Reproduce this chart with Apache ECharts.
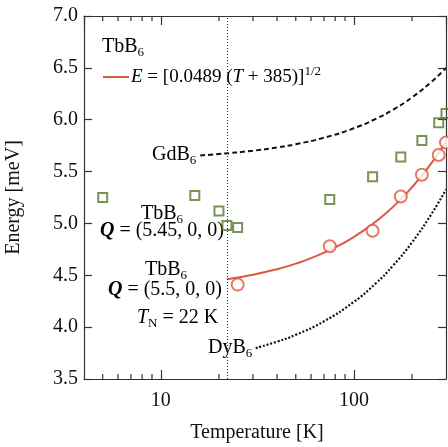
<!DOCTYPE html>
<html>
<head>
<meta charset="utf-8">
<script src="https://cdn.jsdelivr.net/npm/echarts@6/dist/echarts.min.js"></script>
<style>
html,body{margin:0;padding:0;background:#fff;}
#chart{width:448px;height:447px;}
</style>
</head>
<body>
<div id="chart"></div>
<script>
// ---- data ----
const xTickValues = [10, 100];
const xTickLabels = ['10', '100'];
const xMinorTicks = [5, 6, 7, 8, 9, 20, 30, 40, 50, 60, 70, 80, 90, 200];
const yTickLabels = ['3.5', '4.0', '4.5', '5.0', '5.5', '6.0', '6.5', '7.0'];

const redTemps = [25, 75, 125, 175, 225, 275, 300];
const redEnergy = [4.41, 4.78, 4.93, 5.26, 5.47, 5.66, 5.78];

const greenTemps = [5, 15, 20, 22, 25, 75, 125, 175, 225, 275, 300];
const greenEnergy = [5.25, 5.27, 5.12, 4.98, 4.96, 5.23, 5.45, 5.64, 5.80, 5.97, 6.06];

const fitTemps = [22, 30, 40, 50, 60, 80, 100, 125, 150, 175, 200, 225, 250, 275, 300];
const fitEnergy = [4.461, 4.505, 4.559, 4.612, 4.665, 4.769, 4.870, 4.994, 5.115, 5.233, 5.349, 5.462, 5.572, 5.681, 5.788];

const gdTemps = [16, 20, 30, 40, 50, 70, 100, 130, 160, 200, 250, 300];
const gdEnergy = [5.656, 5.669, 5.701, 5.732, 5.764, 5.826, 5.918, 6.009, 6.098, 6.215, 6.359, 6.499];

const dyTemps = [31, 40, 50, 70, 100, 130, 160, 200, 250, 300];
const dyEnergy = [3.798, 3.860, 3.926, 4.056, 4.244, 4.423, 4.596, 4.817, 5.079, 5.328];

const TN = 22;

// ---- styling ----
const RED = '#dd5840';
const GREEN = '#56782a';
const FONT = '"Liberation Serif", "DejaVu Serif", serif';
const zip = (a, b) => a.map((v, i) => [v, b[i]]);

const chart = echarts.init(document.getElementById('chart'), null, {renderer: 'canvas'});

const axisLine = {show: true, lineStyle: {color: '#333', width: 1.2}};

const option = {
  animation: false,
  grid: {left: 84, right: 2, top: 16, bottom: 68, containLabel: false, outerBoundsMode: 'none'},
  xAxis: [{
    type: 'log', logBase: 10, min: 4, max: 300, position: 'bottom',
    axisLine: axisLine,
    axisTick: {show: true, inside: true, length: 9, lineStyle: {color: '#333', width: 1.2}},
    splitLine: {show: false},
    minorTick: {show: false},
    axisLabel: {
      show: true, margin: 12, color: '#111', fontFamily: FONT, fontSize: 20,
      showMinLabel: false, showMaxLabel: false,
      formatter: function (v) {
        for (let i = 0; i < xTickValues.length; i++) {
          if (Math.abs(v - xTickValues[i]) < 1e-6 * xTickValues[i]) return xTickLabels[i];
        }
        return '';
      }
    },
    name: 'Temperature [K]', nameLocation: 'middle', nameGap: 44,
    nameTextStyle: {color: '#111', fontFamily: FONT, fontSize: 20, padding: [0, 16, 0, 0]}
  }, {
    type: 'log', logBase: 10, min: 4, max: 300, position: 'top',
    axisLine: axisLine,
    axisTick: {show: true, inside: true, length: 9, lineStyle: {color: '#333', width: 1.2}},
    splitLine: {show: false},
    axisLabel: {show: false}
  }],
  yAxis: [{
    type: 'value', min: 3.5, max: 7.0, interval: 0.5, position: 'left',
    axisLine: axisLine,
    axisTick: {show: true, inside: true, length: 8, lineStyle: {color: '#333', width: 1.2}},
    splitLine: {show: false},
    axisLabel: {
      margin: 6, color: '#111', fontFamily: FONT, fontSize: 20,
      formatter: function (v) {
        const idx = Math.round((v - 3.5) / 0.5);
        return yTickLabels[idx] !== undefined ? yTickLabels[idx] : '';
      }
    },
    name: 'Energy [meV]', nameLocation: 'middle', nameGap: 60, nameRotate: 90,
    nameTextStyle: {color: '#111', fontFamily: FONT, fontSize: 20, padding: [0, 0, 0, 0]}
  }, {
    type: 'value', min: 3.5, max: 7.0, interval: 0.5, position: 'right',
    axisLine: axisLine,
    axisTick: {show: true, inside: true, length: 8, lineStyle: {color: '#333', width: 1.2}},
    splitLine: {show: false},
    axisLabel: {show: false}
  }],
  series: [
    {
      // minor ticks on log axes (bottom and top)
      type: 'custom', xAxisIndex: 0, yAxisIndex: 0, clip: false, silent: true,
      data: xMinorTicks.map(t => [t, 3.5]),
      encode: {x: 0, y: 1},
      renderItem: function (params, api) {
        const T = api.value(0);
        const b = api.coord([T, 3.5]);
        const t = api.coord([T, 7.0]);
        const st = {stroke: '#333', lineWidth: 1.2};
        return {type: 'group', children: [
          {type: 'line', shape: {x1: b[0], y1: b[1], x2: b[0], y2: b[1] - 5}, style: st},
          {type: 'line', shape: {x1: t[0], y1: t[1], x2: t[0], y2: t[1] + 5}, style: st}
        ]};
      }
    },
    {
      name: 'TN', type: 'line', data: [], silent: true,
      markLine: {
        silent: true, symbol: ['none', 'none'], label: {show: false},
        lineStyle: {color: '#333', width: 1.1, type: [1, 2]},
        data: [{xAxis: TN}]
      }
    },
    {
      name: 'GdB6', type: 'line', data: zip(gdTemps, gdEnergy), smooth: true,
      symbol: 'none', lineStyle: {color: '#111', width: 2, type: [5, 3]}
    },
    {
      name: 'DyB6', type: 'line', data: zip(dyTemps, dyEnergy), smooth: true,
      symbol: 'none', lineStyle: {color: '#111', width: 2.2, type: [2, 1.8]}
    },
    {
      name: 'fit', type: 'line', data: zip(fitTemps, fitEnergy), smooth: true,
      symbol: 'none', lineStyle: {color: RED, width: 2}
    },
    {
      name: 'TbB6 Q=(5.45,0,0)', type: 'scatter', data: zip(greenTemps, greenEnergy),
      symbol: 'rect', symbolSize: 9,
      itemStyle: {color: 'rgba(255,255,255,0)', borderColor: GREEN, borderWidth: 2}
    },
    {
      name: 'TbB6 Q=(5.5,0,0)', type: 'scatter', data: zip(redTemps, redEnergy),
      symbol: 'circle', symbolSize: 12, z: 5,
      itemStyle: {color: '#fff', borderColor: RED, borderWidth: 2}
    }
  ],
  graphic: [
    {type: 'text', x: 102, y: 47, style: {
      text: '{a|TbB}{s|6}', verticalAlign: 'middle', align: 'left',
      rich: {a: {fontFamily: FONT, fontSize: 20, color: '#111', lineHeight: 24},
             s: {fontFamily: FONT, fontSize: 13, color: '#111', lineHeight: 13, verticalAlign: 'bottom'}}
    }},
    {type: 'line', shape: {x1: 103, y1: 77, x2: 129, y2: 77}, style: {stroke: RED, lineWidth: 2}},
    {type: 'text', x: 131, y: 77, style: {
      text: '{i|E}{n| = [0.0489 (}{i|T}{n| + 385)]}{p|1/2}', verticalAlign: 'middle', align: 'left',
      rich: {i: {fontFamily: FONT, fontSize: 19, fontStyle: 'italic', color: '#111', lineHeight: 24},
             n: {fontFamily: FONT, fontSize: 19, color: '#111', lineHeight: 24},
             p: {fontFamily: FONT, fontSize: 13, color: '#111', lineHeight: 13, verticalAlign: 'top'}}
    }},
    {type: 'text', x: 152, y: 155, style: {
      text: '{a|GdB}{s|6}', verticalAlign: 'middle', align: 'left',
      rich: {a: {fontFamily: FONT, fontSize: 20, color: '#111', lineHeight: 24},
             s: {fontFamily: FONT, fontSize: 13, color: '#111', lineHeight: 13, verticalAlign: 'bottom'}}
    }},
    {type: 'text', x: 162, y: 214, style: {
      text: '{a|TbB}{s|6}', verticalAlign: 'middle', align: 'center',
      rich: {a: {fontFamily: FONT, fontSize: 20, color: GREEN, lineHeight: 24},
             s: {fontFamily: FONT, fontSize: 13, color: GREEN, lineHeight: 13, verticalAlign: 'bottom'}}
    }},
    {type: 'text', x: 162, y: 231, style: {
      text: '{q|Q}{a| = (5.45, 0, 0)}', verticalAlign: 'middle', align: 'center',
      rich: {q: {fontFamily: FONT, fontSize: 20, fontStyle: 'italic', fontWeight: 'bold', color: GREEN, lineHeight: 24},
             a: {fontFamily: FONT, fontSize: 20, color: GREEN, lineHeight: 24}}
    }},
    {type: 'text', x: 166, y: 270, style: {
      text: '{a|TbB}{s|6}', verticalAlign: 'middle', align: 'center',
      rich: {a: {fontFamily: FONT, fontSize: 20, color: RED, lineHeight: 24},
             s: {fontFamily: FONT, fontSize: 13, color: RED, lineHeight: 13, verticalAlign: 'bottom'}}
    }},
    {type: 'text', x: 165, y: 290, style: {
      text: '{q|Q}{a| = (5.5, 0, 0)}', verticalAlign: 'middle', align: 'center',
      rich: {q: {fontFamily: FONT, fontSize: 20, fontStyle: 'italic', fontWeight: 'bold', color: RED, lineHeight: 24},
             a: {fontFamily: FONT, fontSize: 20, color: RED, lineHeight: 24}}
    }},
    {type: 'text', x: 137, y: 318, style: {
      text: '{i|T}{s|N}{a| = 22 K}', verticalAlign: 'middle', align: 'left',
      rich: {i: {fontFamily: FONT, fontSize: 20, fontStyle: 'italic', color: '#111', lineHeight: 24},
             s: {fontFamily: FONT, fontSize: 13, color: '#111', lineHeight: 13, verticalAlign: 'bottom'},
             a: {fontFamily: FONT, fontSize: 20, color: '#111', lineHeight: 24}}
    }},
    {type: 'text', x: 208, y: 348, style: {
      text: '{a|DyB}{s|6}', verticalAlign: 'middle', align: 'left',
      rich: {a: {fontFamily: FONT, fontSize: 20, color: '#111', lineHeight: 24},
             s: {fontFamily: FONT, fontSize: 13, color: '#111', lineHeight: 13, verticalAlign: 'bottom'}}
    }}
  ]
};
chart.setOption(option);
</script>
</body>
</html>
